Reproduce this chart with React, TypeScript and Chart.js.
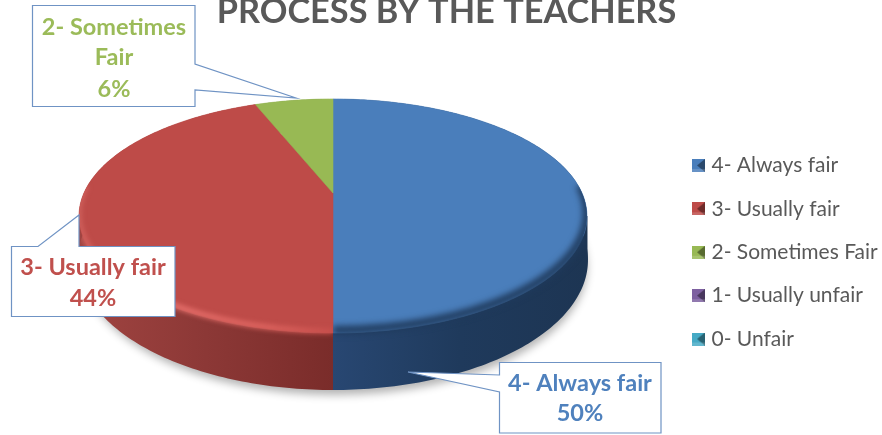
import React, { useEffect, useRef } from "react";
import { Chart, registerables } from "chart.js";

Chart.register(...registerables);

const categories = ["4- Always fair", "3- Usually fair", "2- Sometimes Fair", "1- Usually unfair", "0- Unfair"];
const shares = [50, 44, 6, 0, 0];
const faceColors = ["#4a7ebb", "#be4b48", "#98b954", "#7d60a0", "#46aac5"];
const titleText = "PROCESS BY THE TEACHERS";
const calloutLines = [["4- Always fair"], ["3- Usually fair"], ["2- Sometimes", "Fair"]];

const FONT = "Lato, 'Open Sans', sans-serif";
const PERSP = -0.1966;
const FRONT_A = 112.5;
const FRONT_D = 249;

function makeMarker(color: string) {
  const c = document.createElement("canvas");
  c.width = 13;
  c.height = 13;
  const g = c.getContext("2d")!;
  g.fillStyle = color;
  g.fillRect(0, 0, 13, 13);
  g.fillStyle = "rgba(0,0,0,0.42)";
  g.beginPath();
  g.moveTo(13, 0);
  g.lineTo(13, 13);
  g.lineTo(5, 6.5);
  g.closePath();
  g.fill();
  g.fillStyle = "rgba(255,255,255,0.16)";
  g.fillRect(0, 10, 13, 3);
  return c;
}

function project(cx: number, cy: number, a: number) {
  const u = Math.cos(a);
  const v = Math.sin(a);
  const w = 1 + PERSP * v;
  return { x: cx + (FRONT_D * u) / w, y: cy + (FRONT_A * v) / w };
}

function lowerRim(cx: number, cy: number, p: { x: number; y: number }) {
  const s = (p.x - cx) / 254;
  const c = -(p.y - cy - 23) / 117;
  const t = Math.atan2(s, c);
  return { x: cx + 255 * Math.sin(t), y: cy + 67 - 130 * Math.cos(t) };
}

function samples(start: number, end: number) {
  const n = Math.max(2, Math.ceil((end - start) * 60));
  const out: number[] = [];
  for (let i = 0; i <= n; i++) out.push(start + ((end - start) * i) / n);
  return out;
}

const piePlugin = {
  id: "tiltedPie",
  beforeDatasetDraw(chart: any) {
    const ctx: CanvasRenderingContext2D = chart.ctx;
    const arcs = chart.getDatasetMeta(0).data.filter((e: any) => e.endAngle - e.startAngle > 0.001);
    if (!arcs.length) return false;
    const cx = arcs[0].x;
    const cy = arcs[0].y;

    const sidePath = (g: Path2D, arc: any) => {
      const pts = samples(arc.startAngle, arc.endAngle);
      pts.forEach((a, i) => {
        const p = project(cx, cy, a);
        if (i === 0) g.moveTo(p.x, p.y);
        else g.lineTo(p.x, p.y);
      });
      [...pts].reverse().forEach((a) => {
        const p = lowerRim(cx, cy, project(cx, cy, a));
        g.lineTo(p.x, p.y);
      });
      g.closePath();
    };
    const facePath = (g: Path2D, arc: any) => {
      g.moveTo(cx, cy);
      samples(arc.startAngle, arc.endAngle).forEach((a) => {
        const p = project(cx, cy, a);
        g.lineTo(p.x, p.y);
      });
      g.closePath();
    };

    ctx.save();
    ctx.save();
    ctx.shadowColor = "rgba(0,0,0,0.3)";
    ctx.shadowBlur = 8;
    ctx.shadowOffsetX = 2;
    ctx.shadowOffsetY = 7;
    ctx.fillStyle = "#555";
    ctx.beginPath();
    ctx.ellipse(cx, cy + 67, 252, 128, 0, 0, Math.PI * 2);
    ctx.fill();
    ctx.restore();

    const sideStops: string[][] = [
      ["#284772", "#1f3a5c", "#1d3553"],
      ["#a04441", "#8c3836", "#7a2c2a"],
      ["#6e8a3c", "#6e8a3c", "#6e8a3c"],
    ];
    const sideGrad = (i: number) => {
      const right = i === 0;
      const gr = ctx.createLinearGradient(right ? cx : cx - 254, 0, right ? cx + 254 : cx, 0);
      const s = sideStops[i] || sideStops[0];
      gr.addColorStop(0, s[0]);
      gr.addColorStop(0.5, s[1]);
      gr.addColorStop(1, s[2]);
      return gr;
    };

    arcs.forEach((arc: any, i: number) => {
      const g = new Path2D();
      sidePath(g, arc);
      ctx.fillStyle = sideGrad(i);
      ctx.fill(g);
      // straight silhouette between the upper and lower rims at the widest point
      if (arc.startAngle < 0 && arc.endAngle > 0) ctx.fillRect(cx, cy + 23, 254.5, 44);
      if (arc.startAngle < Math.PI && arc.endAngle > Math.PI) ctx.fillRect(cx - 254.5, cy + 23, 254.5, 44);
    });
    arcs.forEach((arc: any) => {
      const g = new Path2D();
      facePath(g, arc);
      ctx.fillStyle = arc.options.backgroundColor;
      ctx.fill(g);
      ctx.strokeStyle = arc.options.backgroundColor;
      ctx.lineWidth = 0.6;
      ctx.stroke(g);
    });

    arcs.forEach((arc: any, i: number) => {
      if (i > 1) return;
      const clip = new Path2D();
      facePath(clip, arc);
      sidePath(clip, arc);
      ctx.save();
      ctx.clip(clip);
      ctx.filter = i === 0 ? "blur(3px)" : "blur(2.5px)";
      const rim = new Path2D();
      let started = false;
      samples(arc.startAngle, arc.endAngle).forEach((a) => {
        if (Math.sin(a) < -0.05) return;
        const p = project(cx, cy, a);
        const q = i === 0 ? 3 : 2;
        if (!started) rim.moveTo(p.x, p.y - q);
        else rim.lineTo(p.x, p.y - q);
        started = true;
      });
      if (i === 0) {
        ctx.strokeStyle = "#1f3a5c";
        ctx.lineWidth = 8;
      } else {
        const gr = ctx.createLinearGradient(cx - 254, 0, cx, 0);
        gr.addColorStop(0, "#d0615d");
        gr.addColorStop(0.4, "#e8716d");
        gr.addColorStop(0.75, "#df6560");
        gr.addColorStop(1, "#c9504d");
        ctx.strokeStyle = gr;
        ctx.lineWidth = 5;
      }
      ctx.stroke(rim);
      ctx.restore();
    });
    ctx.restore();
    return false;
  },
};

type Callout = { i: number; side: string; box: number[]; tail: number[]; cx: number; ys: number[]; color: string };
const callouts: Callout[] = [
  { i: 2, side: "right", box: [32.5, 5.5, 195, 106.5], tail: [195, 64, 296, 98, 195, 90], cx: 114, ys: [27, 57, 89], color: "#9bbb59" },
  { i: 1, side: "top", box: [11.5, 246.5, 175, 316.5], tail: [38, 246.5, 79, 215, 79, 246.5], cx: 93, ys: [267, 298], color: "#c0504d" },
  { i: 0, side: "left", box: [499.5, 362.5, 661, 433], tail: [499.5, 375, 408, 372, 499.5, 392], cx: 580, ys: [383, 413], color: "#4f81bd" },
];

const annotationPlugin = {
  id: "annotations",
  beforeDraw(chart: any) {
    const legend = chart.legend;
    legend.left = 673.6;
    legend.top = 132.5;
    legend.bottom = 435;
    legend.right = 882;
  },
  afterDraw(chart: any) {
    const ctx: CanvasRenderingContext2D = chart.ctx;
    ctx.save();
    ctx.textAlign = "center";
    ctx.textBaseline = "alphabetic";
    ctx.fillStyle = "#595959";
    ctx.font = `bold 34.3px ${FONT}`;
    ctx.fillText(titleText, 446.5, 23);

    callouts.forEach((c) => {
      const [l, t, r, b] = c.box;
      const [x1, y1, tx, ty, x2, y2] = c.tail;
      ctx.fillStyle = "#ffffff";
      ctx.strokeStyle = "#6f93c4";
      ctx.lineWidth = 1.2;
      const p = new Path2D();
      p.moveTo(l, t);
      if (c.side === "top") {
        p.lineTo(x1, y1);
        p.lineTo(tx, ty);
        p.lineTo(x2, y2);
        p.lineTo(r, t);
        p.lineTo(r, b);
        p.lineTo(l, b);
      } else if (c.side === "right") {
        p.lineTo(r, t);
        p.lineTo(x1, y1);
        p.lineTo(tx, ty);
        p.lineTo(x2, y2);
        p.lineTo(r, b);
        p.lineTo(l, b);
      } else {
        p.lineTo(r, t);
        p.lineTo(r, b);
        p.lineTo(l, b);
        p.lineTo(x2, y2);
        p.lineTo(tx, ty);
        p.lineTo(x1, y1);
      }
      p.closePath();
      ctx.fill(p);
      ctx.stroke(p);
      const lines = [...calloutLines[c.i], `${shares[c.i]}%`];
      ctx.fillStyle = c.color;
      ctx.font = `bold 23.5px ${FONT}`;
      ctx.textBaseline = "middle";
      lines.forEach((s, k) => ctx.fillText(s, c.cx, c.ys[k]));
    });
    ctx.restore();
  },
};

export default function App() {
  const ref = useRef<HTMLCanvasElement>(null);
  useEffect(() => {
    const markers = faceColors.map(makeMarker);
    const chart = new Chart(ref.current!, {
      type: "pie",
      data: {
        labels: categories,
        datasets: [{ data: shares, backgroundColor: faceColors, borderWidth: 0 }],
      },
      plugins: [piePlugin, annotationPlugin],
      options: {
        responsive: false,
        animation: false,
        layout: { padding: { left: 12, right: 14, top: 0, bottom: 49 } },
        plugins: {
          title: { display: false },
          tooltip: { enabled: false },
          legend: {
            position: "right",
            align: "start",
            labels: {
              usePointStyle: true,
              boxWidth: 5,
              boxHeight: 13,
              padding: 22.4,
              color: "#595959",
              font: { family: FONT, size: 21 },
              generateLabels: () =>
                categories.map((text, i) => ({
                  text,
                  fillStyle: faceColors[i],
                  strokeStyle: "transparent",
                  lineWidth: 0,
                  pointStyle: markers[i],
                  hidden: false,
                  index: i,
                  fontColor: "#595959",
                })),
            },
          },
        },
      } as any,
    });
    return () => chart.destroy();
  }, []);
  return (
    <div style={{ position: "absolute", left: 0, top: 0, width: 882, height: 435, overflow: "hidden", background: "#fff" }}>
      <canvas ref={ref} width={882} height={435} style={{ display: "block", width: 882, height: 435, filter: "blur(0.45px)" }} />
    </div>
  );
}
